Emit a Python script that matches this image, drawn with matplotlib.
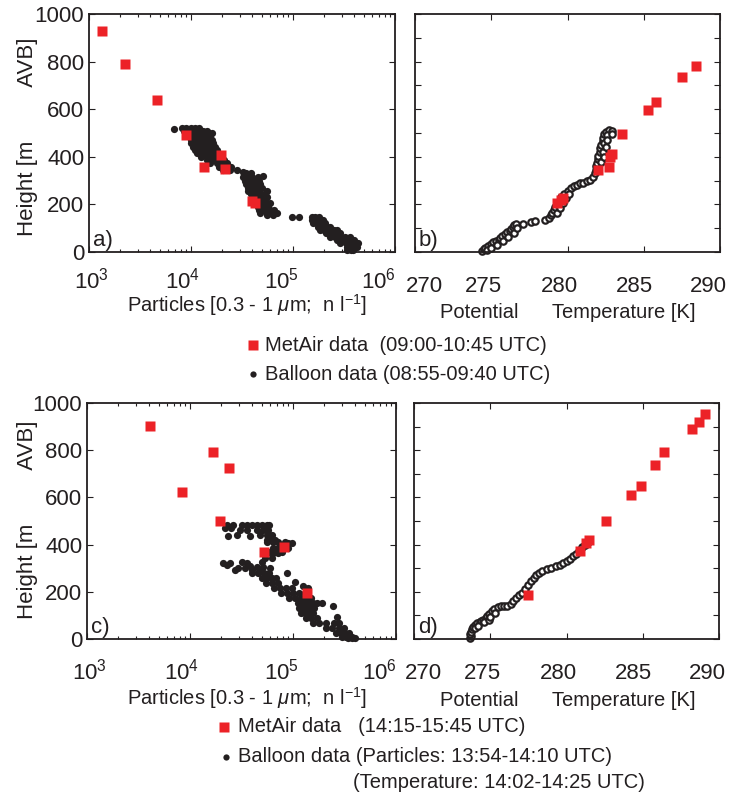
import numpy as np
import matplotlib
matplotlib.use("Agg")
import matplotlib.pyplot as plt
from matplotlib.lines import Line2D
from matplotlib.transforms import ScaledTranslation

plt.rcParams['font.family'] = ['Liberation Sans', 'DejaVu Sans']
plt.rcParams['mathtext.fontset'] = 'custom'
plt.rcParams['mathtext.rm'] = 'Liberation Sans'
plt.rcParams['mathtext.it'] = 'Liberation Sans:italic'

RED = '#ec2227'
BLK = '#231f20'

# ---------------- data ----------------
# a) morning particles: MetAir squares (n/l, m)
a_met_part = [1330, 2250, 4680, 8870, 13500, 19900, 21500, 39400, 42400]
a_met_h = [930, 789, 637, 491, 358, 406, 347, 213, 207]

# a) balloon particles
a_bal = [
    (6.8e3, 517),
    (8.1e3, 520), (9.0e3, 520), (1.0e4, 520), (1.1e4, 520), (1.2e4, 520),
    (8.6e3, 508), (9.6e3, 508), (1.07e4, 508), (1.18e4, 508), (1.3e4, 508), (1.42e4, 508),
    (9.4e3, 499), (1.05e4, 499), (1.2e4, 499), (1.35e4, 499), (1.5e4, 499), (1.59e4, 499),
    (9.8e3, 485), (1.1e4, 485), (1.25e4, 485), (1.4e4, 485), (1.55e4, 485),
    (1.0e4, 471), (1.12e4, 471), (1.28e4, 471), (1.45e4, 471), (1.6e4, 471),
    (1.01e4, 457), (1.15e4, 457), (1.3e4, 457), (1.5e4, 457), (1.66e4, 457),
    (1.05e4, 443), (1.2e4, 443), (1.35e4, 443), (1.55e4, 443), (1.7e4, 443),
    (1.1e4, 429), (1.25e4, 429), (1.42e4, 429), (1.6e4, 429), (1.78e4, 429),
    (1.14e4, 415), (1.3e4, 415), (1.5e4, 415), (1.7e4, 415), (1.85e4, 415),
    (1.25e4, 400), (1.45e4, 400), (1.65e4, 400), (1.85e4, 400),
    (1.43e4, 387), (1.65e4, 387), (1.9e4, 387), (2.1e4, 387),
    (1.55e4, 373), (1.8e4, 373), (2.05e4, 373), (2.24e4, 373),
    (1.9e4, 358), (2.2e4, 358), (2.45e4, 358),
    (2.05e4, 345), (2.4e4, 345), (2.8e4, 345),
    (3.26e4, 337), (3.5e4, 333), (3.9e4, 330),
    (3.26e4, 316), (3.6e4, 316), (4.0e4, 316), (4.5e4, 316), (5.1e4, 320),
    (3.4e4, 300), (3.8e4, 300), (4.2e4, 300), (4.6e4, 300),
    (3.5e4, 285), (3.9e4, 285), (4.3e4, 285), (4.8e4, 285),
    (3.6e4, 270), (4.0e4, 270), (4.5e4, 270), (5.0e4, 270),
    (3.66e4, 258), (4.1e4, 258), (4.6e4, 258), (5.5e4, 258),
    (3.9e4, 245), (4.3e4, 245), (4.8e4, 245), (5.3e4, 245),
    (4.0e4, 230), (4.5e4, 230), (5.0e4, 230), (5.6e4, 230),
    (4.1e4, 215), (4.7e4, 215), (5.3e4, 215),
    (4.3e4, 204), (4.9e4, 204), (5.5e4, 204), (5.9e4, 204),
    (4.5e4, 190), (5.1e4, 190), (5.7e4, 190),
    (4.6e4, 175), (5.3e4, 175), (6.0e4, 175), (6.5e4, 175),
    (4.75e4, 162), (5.5e4, 162), (6.2e4, 162), (6.9e4, 162),
    (5.5e4, 155), (6.4e4, 155),
    (9.7e4, 148), (1.15e5, 148),
    (1.52e5, 148), (1.65e5, 148), (1.8e5, 148),
    (1.55e5, 135), (1.7e5, 135), (1.85e5, 135), (1.95e5, 135),
    (1.58e5, 120), (1.72e5, 120), (1.9e5, 120), (2.05e5, 120),
    (1.75e5, 106), (1.95e5, 106), (2.15e5, 106), (2.3e5, 106),
    (1.84e5, 92), (2.0e5, 92), (2.25e5, 92), (2.5e5, 92), (2.68e5, 92),
    (2.1e5, 78), (2.35e5, 78), (2.6e5, 78), (2.9e5, 78),
    (2.31e5, 64), (2.6e5, 64), (2.9e5, 64), (3.2e5, 64), (3.6e5, 64),
    (2.7e5, 50), (3.1e5, 50), (3.6e5, 50), (4.0e5, 50),
    (2.89e5, 36), (3.3e5, 36), (3.8e5, 36), (4.3e5, 36),
    (3.4e5, 22), (3.8e5, 22), (4.2e5, 22),
    (3.4e5, 8), (3.7e5, 8), (3.9e5, 8),
]

# b) morning potential temperature
b_met_T = [288.4, 287.5, 285.8, 285.3, 283.6, 282.9, 282.8, 282.7, 282.0, 279.6, 279.3, 279.7]
b_met_h = [781, 737, 632, 597, 494, 412, 400, 358, 345, 218, 205, 225]

b_bal = [
    (274.4, 5), (274.5, 12), (274.6, 18), (274.8, 25), (275.0, 32), (275.1, 40),
    (275.3, 46), (275.5, 52), (275.6, 58), (275.7, 66), (275.9, 74), (276.0, 82),
    (276.2, 90), (276.3, 98), (276.4, 106), (276.5, 112), (276.65, 117),
    (274.7, 8), (275.0, 18), (275.4, 30), (275.8, 45), (276.1, 62), (276.5, 80), (276.7, 100),
    (277.1, 118), (277.6, 126), (277.9, 130), (278.5, 133),
    (278.8, 143), (278.9, 155), (279.0, 165), (279.1, 178), (279.2, 190), (279.3, 200),
    (279.5, 215), (279.6, 230), (279.8, 245), (280.0, 258), (280.2, 268), (280.4, 276),
    (279.3, 165), (279.5, 185), (279.7, 205), (279.9, 225), (280.1, 245),
    (280.6, 283), (280.8, 288), (281.0, 292), (281.3, 298), (281.5, 303), (281.7, 315),
    (281.8, 330), (281.9, 345), (281.9, 360), (281.95, 375), (282.0, 390), (282.0, 405),
    (282.1, 420), (282.1, 435), (282.2, 450), (282.3, 465), (282.3, 480), (282.4, 495),
    (282.5, 505), (282.7, 512), (282.9, 508),
    (282.2, 380), (282.3, 420), (282.4, 460), (282.6, 490),
    (282.4, 400), (282.5, 440), (282.6, 470), (282.9, 495),
]

# c) afternoon particles
c_met_part = [4100, 16600, 23900, 8300, 19400, 52000, 82000, 138000]
c_met_h = [904, 792, 725, 623, 500, 369, 390, 195]

c_bal = [
    (2.27e4, 483), (2.63e4, 483), (3.18e4, 483), (3.55e4, 483), (3.97e4, 483),
    (4.44e4, 483), (4.97e4, 483), (5.56e4, 483), (5.89e4, 483),
    (2.19e4, 470), (2.5e4, 470),
    (3.06e4, 462), (3.55e4, 462), (4.44e4, 462), (5.16e4, 462), (5.76e4, 462),
    (2.36e4, 436), (2.84e4, 440), (3.83e4, 436),
    (4.79e4, 441), (5.56e4, 441), (6.21e4, 441),
    (5.56e4, 420), (6.2e4, 420), (6.7e4, 420),
    (5.56e4, 412), (6.45e4, 412), (7.2e4, 412), (8.36e4, 412),
    (7.48e4, 400), (8.69e4, 400), (9.71e4, 405), (9.0e4, 405),
    (6.45e4, 384), (7.2e4, 384), (8.06e4, 384), (9.01e4, 384),
    (5.8e4, 370), (6.5e4, 370), (7.2e4, 370), (7.8e4, 370),
    (5.56e4, 363), (6.45e4, 363), (7.2e4, 363),
    (5.35e4, 342), (6.21e4, 342), (4.97e4, 328),
    (2.11e4, 321), (2.27e4, 314), (2.44e4, 321), (2.73e4, 292), (3.18e4, 328),
    (3.55e4, 321), (3.97e4, 292), (4.44e4, 306), (4.79e4, 292), (5.16e4, 306),
    (2.9e4, 300), (3.4e4, 300), (3.8e4, 310),
    (4.0e4, 278), (4.6e4, 278), (5.2e4, 278), (5.8e4, 278), (6.0e4, 299),
    (5.0e4, 257), (5.6e4, 257), (6.2e4, 257), (6.9e4, 257), (8.69e4, 278),
    (5.5e4, 236), (6.3e4, 236), (7.2e4, 236), (1.05e5, 240),
    (6.6e4, 215), (7.5e4, 215), (8.5e4, 215), (9.8e4, 215), (1.25e5, 225), (1.4e5, 215),
    (7.6e4, 194), (8.8e4, 194), (1.0e5, 194), (1.15e5, 194), (1.3e5, 194),
    (9.2e4, 172), (1.05e5, 172), (1.2e5, 172), (1.35e5, 172), (1.5e5, 172),
    (1.12e5, 151), (1.2e5, 151), (1.3e5, 151), (1.4e5, 151), (1.55e5, 151),
    (1.7e5, 151), (1.9e5, 151),
    (1.15e5, 130), (1.22e5, 130), (1.32e5, 130), (1.45e5, 130), (1.6e5, 130),
    (2.45e5, 138),
    (1.2e5, 109), (1.3e5, 109), (1.42e5, 109), (1.55e5, 109),
    (1.35e5, 88), (1.5e5, 88), (1.7e5, 88), (2.7e5, 92),
    (1.55e5, 67), (1.8e5, 67), (2.1e5, 67), (2.5e5, 67), (2.8e5, 67),
    (2.1e5, 45), (2.4e5, 45), (2.8e5, 45), (3.1e5, 45),
    (2.6e5, 24), (2.9e5, 24), (3.2e5, 24), (3.5e5, 24),
    (3.0e5, 10), (3.3e5, 10), (3.7e5, 10),
    (3.4e5, 3), (3.7e5, 3), (4.0e5, 3),
]

# d) afternoon potential temperature
d_met_T = [289.1, 288.7, 288.25, 286.4, 285.8, 284.9, 284.2, 282.6, 281.5, 281.3, 280.9, 277.5]
d_met_h = [953, 921, 890, 794, 739, 647, 612, 500, 419, 405, 374, 186]

d_bal = [
    (273.7, 3), (273.75, 12), (273.7, 22), (273.75, 31), (273.8, 42), (273.85, 52),
    (274.0, 60), (274.1, 66), (274.3, 72), (274.4, 76), (274.5, 82), (274.7, 88),
    (274.8, 98), (274.9, 108), (275.1, 118), (275.25, 128), (275.5, 136),
    (274.0, 45), (274.2, 55), (274.6, 70), (274.9, 80), (275.0, 95), (275.3, 110),
    (275.7, 139), (275.9, 140), (276.1, 140), (276.35, 150), (276.5, 162), (276.7, 175),
    (276.9, 185), (277.1, 194), (277.3, 210), (277.5, 228), (277.7, 244), (277.85, 258),
    (278.0, 270), (278.2, 280), (278.4, 287), (278.7, 295), (279.0, 302), (279.3, 310),
    (279.55, 315), (279.8, 323), (280.0, 332), (280.2, 340), (280.4, 350), (280.6, 362),
    (280.8, 375), (281.0, 390), (281.2, 400), (281.4, 412),
]

h_ticks = [0, 200, 400, 600, 800, 1000]
p_ticks = [1e3, 1e4, 1e5, 1e6]
t_ticks = [270, 275, 280, 285, 290]
# horizontal offsets (px) of the tick labels as placed in the original export
p_shift = [2, -8, -12, -17]
t_shift = [9, -8, -8, -9, -12]

# ---------------- figure ----------------
fig = plt.figure(figsize=(7.33, 7.93), dpi=100)
W, H = 733.0, 793.0


def axpos(x0, y_top, x1, y_bot):
    return [x0 / W, 1 - y_bot / H, (x1 - x0) / W, (y_bot - y_top) / H]


ax_a = fig.add_axes(axpos(89, 14, 395, 252))
ax_b = fig.add_axes(axpos(415, 14, 720, 252))
ax_c = fig.add_axes(axpos(87, 403, 396, 639))
ax_d = fig.add_axes(axpos(414, 403, 719, 639))


def style(ax, log, xpad):
    ax.set_ylim(0, 1000)
    ax.tick_params(which='both', direction='in', top=True, right=True,
                   labelsize=16, width=0.8, colors=BLK)
    ax.tick_params(which='major', length=4)
    ax.tick_params(which='minor', length=2.5)
    ax.tick_params(axis='x', pad=xpad)
    for s in ax.spines.values():
        s.set_linewidth(1.3)
        s.set_color(BLK)
    if log:
        ax.set_xscale('log')
        ax.set_xlim(1e3, 1e6)
        ax.set_xticks(p_ticks)
        ax.set_yticks(h_ticks)
        shifts = p_shift
    else:
        ax.set_xlim(270, 290)
        ax.set_xticks(t_ticks)
        ax.set_yticks(np.arange(0, 1001, 100))
        ax.set_yticklabels([])
        shifts = t_shift
    for lab, dx in zip(ax.get_xticklabels(), shifts):
        lab.set_transform(lab.get_transform() +
                          ScaledTranslation(dx / 100, 0, fig.dpi_scale_trans))


for ax, bal, mp, mh, pad in [(ax_a, a_bal, a_met_part, a_met_h, 11),
                             (ax_c, c_bal, c_met_part, c_met_h, 14)]:
    style(ax, True, pad)
    arr = np.array(bal)
    ax.plot(arr[:, 0], arr[:, 1], 'o', color=BLK, ms=5.2, mec='none', clip_on=False)
    ax.plot(mp, mh, 's', color=RED, ms=7, mec='none', clip_on=False)

for ax, bal, mT, mh in [(ax_b, b_bal, b_met_T, b_met_h),
                        (ax_d, d_bal, d_met_T, d_met_h)]:
    style(ax, False, 17)
    arr = np.array(bal)
    ax.plot(arr[:, 0], arr[:, 1], 'o', mfc='white', mec=BLK, mew=1.6, ms=4.6, clip_on=False)
    ax.plot(mT, mh, 's', color=RED, ms=7, mec='none', clip_on=False)

for ax, lab in [(ax_a, 'a)'), (ax_b, 'b)'), (ax_c, 'c)'), (ax_d, 'd)')]:
    ax.text(0.012, 0.005, lab, transform=ax.transAxes, fontsize=16,
            ha='left', va='bottom', color=BLK)

# axis labels
xl_part = r'Particles [0.3 - 1 $\mu$m;  n l$^{-1}$]'
xl_temp = 'Potential      Temperature [K]'
for yp, yt in ((305, 312), (698, 700)):
    fig.text(247 / W, 1 - yp / H, xl_part, fontsize=14.5, ha='center', va='center', color=BLK)
    fig.text(568 / W, 1 - yt / H, xl_temp, fontsize=14.5, ha='center', va='center', color=BLK)
for yc in (137, 520):
    fig.text(28 / W, 1 - yc / H, 'Height [m' + ' ' * 9 + 'AVB]', fontsize=16, rotation=90,
             ha='center', va='center', color=BLK)


# legends
def legend_row(x_mark, x_text, y, marker, text):
    if marker == 's':
        fig.add_artist(Line2D([x_mark / W], [1 - y / H], marker='s', color=RED,
                              ms=7, mec='none', transform=fig.transFigure))
    else:
        fig.add_artist(Line2D([x_mark / W], [1 - y / H], marker='o', color=BLK,
                              ms=4.5, mec='none', transform=fig.transFigure))
    fig.text(x_text / W, 1 - y / H, text, fontsize=14.5, ha='left', va='center', color=BLK)


legend_row(253, 265, 345, 's', 'MetAir data  (09:00-10:45 UTC)')
legend_row(253, 265, 374, 'o', 'Balloon data (08:55-09:40 UTC)')
legend_row(224, 238, 727, 's', 'MetAir data   (14:15-15:45 UTC)')
legend_row(226, 238, 757, 'o', 'Balloon data (Particles: 13:54-14:10 UTC)')
fig.text(353 / W, 1 - 782 / H, '(Temperature: 14:02-14:25 UTC)', fontsize=14.5,
         ha='left', va='center', color=BLK)

fig.savefig('out.png', dpi=100)
